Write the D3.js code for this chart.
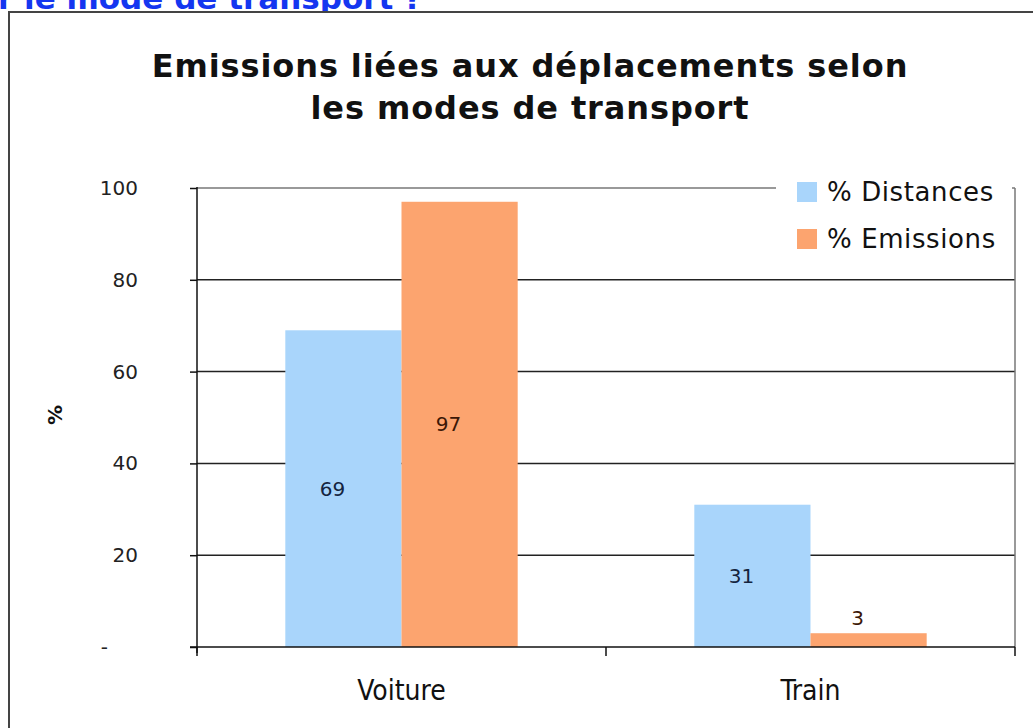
<!DOCTYPE html>
<html>
<head>
<meta charset="utf-8">
<script src="https://cdn.jsdelivr.net/npm/d3@7"></script>
<style>
  body { margin: 0; background: #fff; }
  svg { display: block; font-family: "DejaVu Sans", Verdana, sans-serif; }
</style>
</head>
<body>
<svg id="graphe" width="1033" height="728"></svg>
<script>
// données du graphique
const modes = ["Voiture", "Train"];
const series = ["% Distances", "% Emissions"];
const distances = [69, 31];
const emissions = [97, 3];
const yTicks = [0, 20, 40, 60, 80, 100];
const yTickLabels = ["-", "20", "40", "60", "80", "100"];
const titre = ["Emissions liées aux déplacements selon", "les modes de transport"];

const couleurs = ["#a9d5fb", "#fca46f"];
const couleursTexte = ["#14243f", "#3b1706"];
const police = "DejaVu Sans, sans-serif";

const svg = d3.select("#graphe");

// bout de titre coupé en haut de l'image
svg.append("text")
  .attr("x", -2).attr("y", 9)
  .attr("fill", "#1436f0")
  .attr("font-weight", "bold")
  .attr("font-size", 31)
  .text("r le mode de transport ?");

// cadre du graphique
svg.append("rect")
  .attr("x", 9).attr("y", 12)
  .attr("width", 1060).attr("height", 760)
  .attr("fill", "#fff")
  .attr("stroke", "#444").attr("stroke-width", 2);

const marge = {gauche: 197, droite: 1015, haut: 188, bas: 647};

const y = d3.scaleLinear().domain([0, 100]).range([marge.bas, marge.haut]);
const x0 = d3.scaleBand().domain(modes).range([marge.gauche, marge.droite]);
const x1 = d3.scaleBand().domain(series).range([0, x0.bandwidth()]).paddingOuter(0.76);

const donnees = modes.map((m, i) => ({mode: m, valeurs: [distances[i], emissions[i]]}));

// titre
svg.append("text")
  .attr("text-anchor", "middle")
  .attr("font-weight", "bold")
  .attr("font-size", 32)
  .attr("letter-spacing", 0.9)
  .attr("fill", "#111")
  .selectAll("tspan").data(titre).enter().append("tspan")
  .attr("x", 530)
  .attr("y", (d, i) => 77 + i * 42)
  .text(d => d);

// lignes de grille
svg.append("g")
  .selectAll("line").data(yTicks.filter(d => d > 0)).enter().append("line")
  .attr("x1", marge.gauche).attr("x2", marge.droite)
  .attr("y1", d => y(d)).attr("y2", d => y(d))
  .attr("stroke", d => d === 100 ? "#777" : "#222")
  .attr("stroke-width", 1.5);

// bord droit
svg.append("line")
  .attr("x1", marge.droite).attr("x2", marge.droite)
  .attr("y1", marge.haut).attr("y2", marge.bas)
  .attr("stroke", "#777").attr("stroke-width", 1.5);

// barres
const groupes = svg.append("g").selectAll("g").data(donnees).enter().append("g")
  .attr("transform", d => `translate(${x0(d.mode)},0)`);

groupes.selectAll("rect")
  .data(d => d.valeurs.map((v, i) => ({serie: series[i], valeur: v, idx: i})))
  .enter().append("rect")
  .attr("x", d => x1(d.serie))
  .attr("y", d => y(d.valeur))
  .attr("width", x1.bandwidth())
  .attr("height", d => y(0) - y(d.valeur))
  .attr("fill", d => couleurs[d.idx]);

// étiquettes des valeurs
groupes.selectAll("text")
  .data(d => d.valeurs.map((v, i) => ({serie: series[i], valeur: v, idx: i})))
  .enter().append("text")
  .attr("x", d => x1(d.serie) + x1.bandwidth() / 2 - 11)
  .attr("y", d => d.valeur < 10 ? y(d.valeur) - 8 : y(d.valeur / 2) + 7)
  .attr("text-anchor", "middle")
  .attr("font-size", 20)
  .attr("font-family", police)
  .attr("fill", d => couleursTexte[d.idx])
  .text(d => d.valeur);

// axe Y
const axeY = d3.axisLeft(y)
  .tickValues(yTicks)
  .tickFormat((d, i) => yTickLabels[i])
  .tickSize(7)
  .tickPadding(52);

const gY = svg.append("g")
  .attr("transform", `translate(${marge.gauche},0)`)
  .call(axeY);
gY.select(".domain").attr("d", `M0,${marge.haut - 1}V${marge.bas + 6}`).attr("stroke", "#111").attr("stroke-width", 1.5);
gY.selectAll(".tick line").attr("stroke", "#111").attr("stroke-width", 1.5);
gY.selectAll(".tick text")
  .attr("font-size", 20)
  .attr("fill", "#222")
  .attr("font-family", police)
  .attr("dx", d => d === 0 ? -30 : 0);

// axe X
const axeX = d3.axisBottom(x0).tickValues([]).tickSizeOuter(0);
const gX = svg.append("g")
  .attr("transform", `translate(0,${marge.bas})`)
  .call(axeX);
gX.select(".domain").attr("d", `M${marge.gauche - 7},0H${marge.droite}`).attr("stroke", "#111").attr("stroke-width", 1.5);

// petits traits de séparation des catégories
const separations = [marge.gauche].concat(modes.map(m => x0(m) + x0.step()));
gX.selectAll("line.sep").data(separations).enter().append("line")
  .attr("class", "sep")
  .attr("x1", d => d).attr("x2", d => d)
  .attr("y1", 0).attr("y2", 9)
  .attr("stroke", "#111").attr("stroke-width", 1.5);

gX.selectAll("text.cat").data(modes).enter().append("text")
  .attr("class", "cat")
  .attr("x", d => x0(d) + x0.bandwidth() / 2)
  .attr("y", 53)
  .attr("text-anchor", "middle")
  .attr("font-size", 28)
  .attr("font-family", "DejaVu Sans Condensed, DejaVu Sans, sans-serif")
  .attr("fill", "#111")
  .text(d => d);

// titre de l'axe Y
svg.append("text")
  .attr("transform", "translate(62,415) rotate(-90)")
  .attr("text-anchor", "middle")
  .attr("font-weight", "bold")
  .attr("font-size", 20)
  .attr("fill", "#111")
  .text("%");

// légende
const legende = svg.append("g").attr("transform", "translate(776,172)");
legende.append("rect")
  .attr("width", 236).attr("height", 88)
  .attr("fill", "#fff");
const items = legende.selectAll("g").data(series).enter().append("g")
  .attr("transform", (d, i) => `translate(21,${10 + i * 47})`);
items.append("rect")
  .attr("width", 20).attr("height", 20)
  .attr("fill", (d, i) => couleurs[i]);
items.append("text")
  .attr("x", 30).attr("y", 19)
  .attr("font-size", 26)
  .attr("letter-spacing", 0.6)
  .attr("fill", "#111")
  .text(d => d);
</script>
</body>
</html>
